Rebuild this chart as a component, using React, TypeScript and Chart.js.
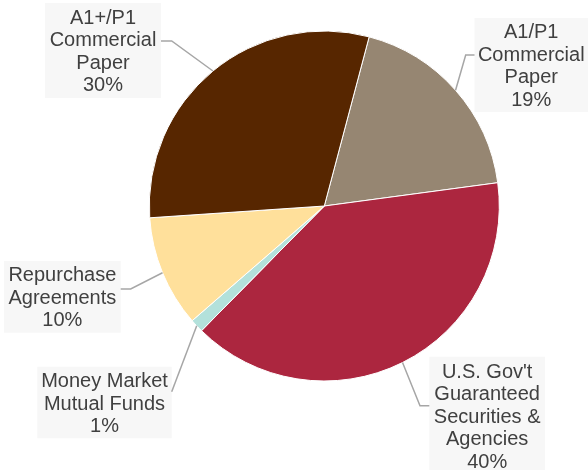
import React, { useEffect, useRef } from "react";
import { Chart, registerables } from "chart.js";

Chart.register(...registerables);

const categories = [
  "A1/P1 Commercial Paper",
  "U.S. Gov't Guaranteed Securities & Agencies",
  "Money Market Mutual Funds",
  "Repurchase Agreements",
  "A1+/P1 Commercial Paper",
];
const labelLines = [
  ["A1/P1", "Commercial", "Paper"],
  ["U.S. Gov't", "Guaranteed", "Securities &", "Agencies"],
  ["Money Market", "Mutual Funds"],
  ["Repurchase", "Agreements"],
  ["A1+/P1", "Commercial", "Paper"],
];
const percentLabels = ["19%", "40%", "1%", "10%", "30%"];
const values = [18.75, 39.5, 1.25, 10.3, 30.2];
const sliceColors = ["#968672", "#AC263F", "#B3E1DB", "#FFE09B", "#572600"];

// label boxes and leader elbows, relative to the pie centre
const labelLayout = [
  { bx: 150.2, by: -188, bw: 113.5, bh: 94, ex: 141.4, ey: -151, side: "left" },
  { bx: 105, by: 150.7, bw: 115.7, bh: 118, ex: 95.7, ey: 199.7, side: "left" },
  { bx: -287, by: 160.7, bw: 134.4, bh: 71.6, ex: -152.6, ey: 185.7, side: "right" },
  { bx: -320.3, by: 55, bw: 116.7, bh: 71.7, ex: -193.6, ey: 83, side: "right" },
  { bx: -279.3, by: -203, bw: 116, bh: 95, ex: -152.6, ey: -165, side: "right" },
];

const labelPlugin = {
  id: "calloutLabels",
  afterDatasetsDraw(chart: any) {
    const ctx = chart.ctx;
    const meta = chart.getDatasetMeta(0);
    ctx.save();
    meta.data.forEach((arc: any, i: number) => {
      const { x, y, startAngle, endAngle, outerRadius } = arc.getProps(
        ["x", "y", "startAngle", "endAngle", "outerRadius"],
        true
      );
      const lay = labelLayout[i];
      const mid = (startAngle + endAngle) / 2;
      const rx = x + Math.cos(mid) * outerRadius;
      const ry = y + Math.sin(mid) * outerRadius;
      const bx = x + lay.bx;
      const by = y + lay.by;
      const ex = x + lay.ex;
      const ey = y + lay.ey;
      const ax = lay.side === "left" ? bx : bx + lay.bw;

      // box
      ctx.fillStyle = "#F7F7F7";
      ctx.fillRect(bx, by, lay.bw, lay.bh);

      // leader
      ctx.strokeStyle = "#A6A6A6";
      ctx.lineWidth = 1.5;
      ctx.beginPath();
      ctx.moveTo(rx, ry);
      ctx.lineTo(ex, ey);
      ctx.lineTo(ax, ey);
      ctx.stroke();

      // text
      const lines = [...labelLines[i], percentLabels[i]];
      const lh = 22.4;
      ctx.fillStyle = "#404040";
      ctx.font = '20px "Liberation Sans", Arial, sans-serif';
      ctx.textAlign = "center";
      ctx.textBaseline = "middle";
      const cx = bx + lay.bw / 2;
      const cy = by + lay.bh / 2 + 1.5;
      const top = cy - ((lines.length - 1) * lh) / 2;
      lines.forEach((t, k) => {
        ctx.fillText(t, cx, top + k * lh);
      });
    });
    ctx.restore();
  },
};

export default function App() {
  const ref = useRef<HTMLCanvasElement | null>(null);
  useEffect(() => {
    if (!ref.current) return;
    const chart = new Chart(ref.current, {
      type: "pie",
      data: {
        labels: categories,
        datasets: [
          {
            data: values,
            backgroundColor: sliceColors,
            borderColor: "#ffffff",
            borderWidth: 1,
          },
        ],
      },
      options: {
        responsive: false,
        animation: false,
        rotation: 14.85,
        layout: { padding: { left: 148.8, right: 88.2, top: 30.5, bottom: 88.5 } },
        plugins: {
          legend: { display: false },
          tooltip: { enabled: false },
        },
      },
      plugins: [labelPlugin],
    });
    return () => chart.destroy();
  }, []);
  return (
    <div style={{ position: "absolute", left: 0, top: 0, width: 588, height: 470, background: "#fff" }}>
      <canvas ref={ref} width={588} height={470} />
    </div>
  );
}
